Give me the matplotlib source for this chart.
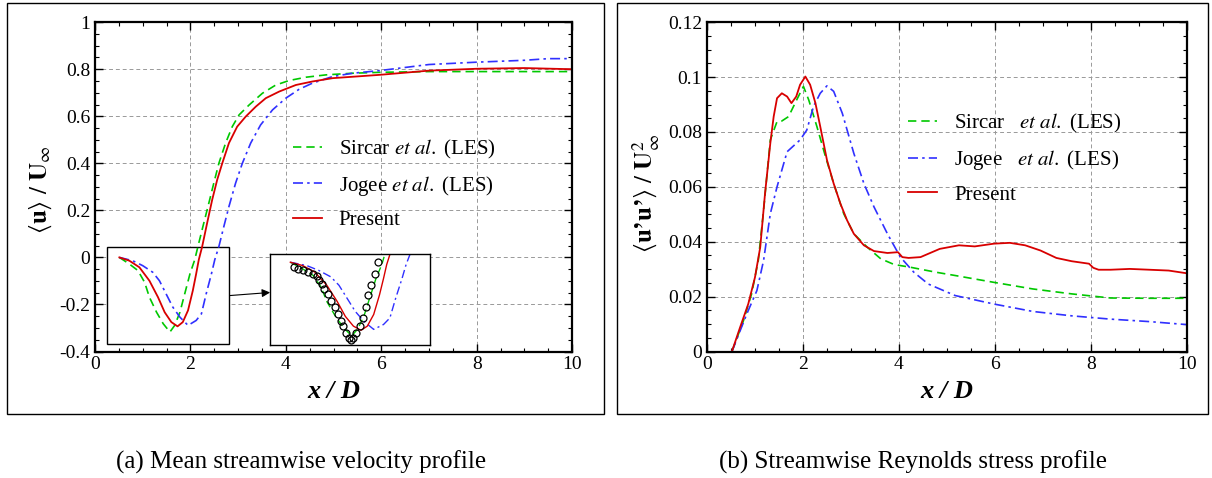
import matplotlib.pyplot as plt
from matplotlib.patches import Rectangle
from matplotlib.ticker import MultipleLocator

plt.rcParams['font.family'] = 'serif'
plt.rcParams['font.serif'] = ['Liberation Serif', 'DejaVu Serif']
plt.rcParams['mathtext.fontset'] = 'stix'

# (a) mean streamwise velocity <u>/U_inf
present_u_x = [0.51, 0.72, 0.93, 1.14, 1.32, 1.46, 1.60, 1.73, 1.84, 1.95, 2.05, 2.12, 2.175, 2.246,
               2.35, 2.456, 2.561, 2.667, 2.807, 2.98, 3.16, 3.37, 3.58, 3.86, 4.21, 4.56, 4.98,
               5.96, 7.0, 8.0, 9.0, 10.0]
present_u_y = [0.0, -0.014, -0.042, -0.099, -0.169, -0.233, -0.275, -0.293, -0.275, -0.225, -0.141,
               -0.07, -0.01, 0.046, 0.146, 0.245, 0.33, 0.40, 0.486, 0.556, 0.599, 0.641, 0.677,
               0.705, 0.733, 0.748, 0.762, 0.776, 0.794, 0.802, 0.805, 0.80]
sircar_u_x = [0.51, 0.72, 0.90, 1.04, 1.14, 1.29, 1.43, 1.57, 1.67, 1.78, 1.88, 1.99, 2.09, 2.175,
              2.28, 2.386, 2.49, 2.596, 2.737, 2.877, 3.02, 3.23, 3.51, 3.79, 4.07, 4.42, 4.84,
              5.40, 6.0, 7.0, 8.0, 9.0, 10.0]
sircar_u_y = [0.0, -0.028, -0.056, -0.106, -0.169, -0.233, -0.282, -0.317, -0.289, -0.233, -0.155,
              -0.07, -0.01, 0.061, 0.146, 0.231, 0.316, 0.40, 0.486, 0.556, 0.606, 0.648, 0.698,
              0.733, 0.752, 0.766, 0.776, 0.783, 0.787, 0.79, 0.79, 0.79, 0.79]
jogee_u_x = [0.51, 0.79, 1.0, 1.21, 1.35, 1.49, 1.63, 1.78, 1.95, 2.12, 2.23, 2.33, 2.44, 2.51, 2.596,
             2.70, 2.807, 2.947, 3.088, 3.263, 3.47, 3.72, 4.0, 4.28, 4.56, 4.98, 5.40, 5.96, 7.0,
             8.0, 9.0, 9.5, 10.0]
jogee_u_y = [0.0, -0.014, -0.035, -0.063, -0.099, -0.155, -0.211, -0.254, -0.289, -0.268, -0.240,
             -0.155, -0.07, -0.01, 0.046, 0.131, 0.216, 0.316, 0.40, 0.486, 0.563, 0.627, 0.677,
             0.715, 0.741, 0.769, 0.783, 0.794, 0.82, 0.83, 0.838, 0.845, 0.845]
exp_u_x = [0.567, 0.636, 0.724, 0.811, 0.898, 0.973, 1.013, 1.054, 1.10, 1.159, 1.217, 1.274, 1.334,
           1.379, 1.42, 1.478, 1.518, 1.553, 1.595, 1.652, 1.71, 1.757, 1.815, 1.856, 1.902, 1.971,
           2.018]
exp_u_y = [-0.020, -0.028, -0.035, -0.042, -0.049, -0.061, -0.078, -0.093, -0.114, -0.136, -0.165,
           -0.194, -0.223, -0.252, -0.274, -0.303, -0.325, -0.336, -0.325, -0.303, -0.274, -0.238,
           -0.194, -0.143, -0.10, -0.049, 0.001]

# (b) streamwise Reynolds stress <u'u'>/U_inf^2
present_uu_x = [0.52, 0.69, 0.86, 1.0, 1.11, 1.21, 1.32, 1.39, 1.46, 1.56, 1.67, 1.76, 1.86, 1.94,
                2.05, 2.15, 2.26, 2.36, 2.50, 2.64, 2.78, 2.92, 3.06, 3.27, 3.48, 3.76, 3.98, 4.07,
                4.2, 4.45, 4.85, 5.25, 5.58, 5.98, 6.31, 6.63, 6.95, 7.28, 7.6, 7.96, 8.05, 8.16,
                8.41, 8.81, 9.22, 9.62, 10.0]
present_uu_y = [0.0, 0.0088, 0.0173, 0.027, 0.038, 0.0576, 0.0759, 0.0856, 0.0923, 0.0941, 0.0929,
                0.0905, 0.0929, 0.0972, 0.1002, 0.0972, 0.0905, 0.082, 0.0698, 0.0612, 0.0539,
                0.0478, 0.0429, 0.0387, 0.0366, 0.0359, 0.0362, 0.0344, 0.0341, 0.0344, 0.0374,
                0.0387, 0.0383, 0.0393, 0.0396, 0.0387, 0.0368, 0.0341, 0.0329, 0.032, 0.0305,
                0.0298, 0.0298, 0.0301, 0.0298, 0.0295, 0.0285]
sircar_uu_x = [0.52, 0.76, 0.93, 1.07, 1.18, 1.32, 1.46, 1.56, 1.70, 1.87, 2.01, 2.12, 2.29, 2.47,
               2.64, 2.85, 3.06, 3.34, 3.62, 3.90, 4.24, 4.77, 5.17, 5.98, 6.79, 7.6, 8.41, 9.22, 10.0]
sircar_uu_y = [0.0, 0.0112, 0.021, 0.0332, 0.0515, 0.0771, 0.0838, 0.084, 0.0856, 0.0917, 0.0966,
               0.0917, 0.082, 0.071, 0.0612, 0.0502, 0.0429, 0.038, 0.0338, 0.0317, 0.0307, 0.0289,
               0.0277, 0.0252, 0.0228, 0.021, 0.0195, 0.0194, 0.0194]
jogee_uu_x = [0.52, 0.83, 1.04, 1.18, 1.32, 1.46, 1.67, 1.94, 2.08, 2.22, 2.36, 2.50, 2.64, 2.82,
              3.06, 3.27, 3.48, 3.76, 4.03, 4.31, 4.61, 5.17, 5.98, 6.79, 7.6, 8.41, 9.22, 10.0]
jogee_uu_y = [0.0, 0.0137, 0.0222, 0.0332, 0.0502, 0.06, 0.0728, 0.0771, 0.0807, 0.0893, 0.0941,
              0.0968, 0.0948, 0.0868, 0.0722, 0.0612, 0.0527, 0.0429, 0.0344, 0.0289, 0.0246,
              0.0204, 0.0173, 0.0146, 0.013, 0.0118, 0.0109, 0.0098]

green = '#00c800'
blue = '#3030ff'
red = '#d80000'
green_dash = (5, 3)
blue_dash = (6, 2.5, 1.5, 2.5)


def style_axes(ax, ymin, ymax, ymajor, yminor):
    ax.set_xlim(0, 10)
    ax.set_ylim(ymin, ymax)
    ax.xaxis.set_major_locator(MultipleLocator(2))
    ax.xaxis.set_minor_locator(MultipleLocator(0.5))
    ax.yaxis.set_major_locator(MultipleLocator(ymajor))
    ax.yaxis.set_minor_locator(MultipleLocator(yminor))
    ax.tick_params(which='both', direction='in', top=True, right=True, labelsize=14)
    ax.tick_params(which='major', length=6, width=1)
    ax.tick_params(which='minor', length=3, width=0.8)
    ax.set_axisbelow(True)
    ax.grid(True, which='major', color='#999999', linestyle=(0, (4, 3)), linewidth=0.7)
    for s in ax.spines.values():
        s.set_linewidth(1.6)
    ax.set_xlabel('x / D', fontsize=19, fontweight='bold', fontstyle='italic')
    ax.xaxis.set_label_coords(0.5, -0.085)


fig = plt.figure(figsize=(12.12, 4.78), dpi=100)
ax1 = fig.add_axes([0.0784, 0.2646, 0.3936, 0.689])
ax2 = fig.add_axes([0.5833, 0.2646, 0.396, 0.689])

# ---- panel (a)
style_axes(ax1, -0.4, 1.0, 0.2, 0.05)
ax1.set_yticks([-0.4, -0.2, 0, 0.2, 0.4, 0.6, 0.8, 1])
ax1.set_yticklabels(['-0.4', '-0.2', '0', '0.2', '0.4', '0.6', '0.8', '1'])
ax1.set_ylabel(r'$\langle\mathbf{u}\rangle$ / $\mathbf{U}_{\infty}$', fontsize=18, fontweight='bold')
ax1.yaxis.set_label_coords(-0.085, 0.49)

ax1.add_patch(Rectangle((0.255, -0.369), 2.555, 0.414, facecolor='white', edgecolor='black',
                        linewidth=1, zorder=1))
ax1.plot(sircar_u_x, sircar_u_y, color=green, lw=1.2, dashes=green_dash,
         label=r'Sircar $\mathit{et\ al.}$ (LES)', zorder=2)
ax1.plot(jogee_u_x, jogee_u_y, color=blue, lw=1.2, dashes=blue_dash,
         label=r'Jogee $\mathit{et\ al.}$ (LES)', zorder=2)
ax1.plot(present_u_x, present_u_y, color=red, lw=1.3, label='Present', zorder=2)
ax1.legend(loc='upper left', bbox_to_anchor=(0.415, 0.649), frameon=False, fontsize=15,
           borderpad=0, borderaxespad=0, handlelength=1.4, handletextpad=0.8, labelspacing=0.62)

axin = ax1.inset_axes([3.67, -0.373, 3.36, 0.389], transform=ax1.transData, zorder=3)
axin.plot(sircar_u_x, sircar_u_y, color=green, lw=1.0, dashes=green_dash)
axin.plot(jogee_u_x, jogee_u_y, color=blue, lw=1.0, dashes=blue_dash)
axin.plot(present_u_x, present_u_y, color=red, lw=1.0)
axin.plot(exp_u_x, exp_u_y, 'o', mfc='none', mec='black', ms=5, mew=0.9)
axin.set_xlim(0.16, 2.93)
axin.set_ylim(-0.357, 0.037)
axin.set_xticks([])
axin.set_yticks([])
for s in axin.spines.values():
    s.set_linewidth(1)

ax1.annotate('', xy=(3.67, -0.149), xytext=(2.83, -0.162),
             arrowprops=dict(arrowstyle='-|>', color='black', lw=0.8, mutation_scale=12,
                             shrinkA=0, shrinkB=0))

# ---- panel (b)
style_axes(ax2, 0, 0.12, 0.02, 0.005)
ax2.set_yticks([0, 0.02, 0.04, 0.06, 0.08, 0.1, 0.12])
ax2.set_yticklabels(['0', '0.02', '0.04', '0.06', '0.08', '0.1', '0.12'])
ax2.set_ylabel('$\\langle\\mathbf{u\u2019u\u2019}\\rangle$ / $\\mathbf{U}_{\\infty}^{2}$',
               fontsize=18, fontweight='bold')
ax2.yaxis.set_label_coords(-0.094, 0.48)
ax2.plot(sircar_uu_x, sircar_uu_y, color=green, lw=1.2, dashes=green_dash,
         label=r'Sircar   $\mathit{et\ al.}$ (LES)')
ax2.plot(jogee_uu_x, jogee_uu_y, color=blue, lw=1.2, dashes=blue_dash,
         label=r'Jogee   $\mathit{et\ al.}$ (LES)')
ax2.plot(present_uu_x, present_uu_y, color=red, lw=1.3, label='Present')
ax2.legend(loc='upper left', bbox_to_anchor=(0.419, 0.727), frameon=False, fontsize=15,
           borderpad=0, borderaxespad=0, handlelength=1.4, handletextpad=0.8, labelspacing=0.62)

# outer frames and captions
fig.add_artist(Rectangle((0.0058, 0.1345), 0.4926, 0.86, transform=fig.transFigure,
                         fill=False, edgecolor='black', linewidth=1))
fig.add_artist(Rectangle((0.509, 0.1345), 0.4876, 0.86, transform=fig.transFigure,
                         fill=False, edgecolor='black', linewidth=1))
fig.text(301 / 1212, 1 - 462 / 478, '(a) Mean streamwise velocity profile', ha='center',
         va='center', fontsize=18)
fig.text(913 / 1212, 1 - 462 / 478, '(b) Streamwise Reynolds stress profile', ha='center',
         va='center', fontsize=18)

fig.savefig('out.png', dpi=100)
